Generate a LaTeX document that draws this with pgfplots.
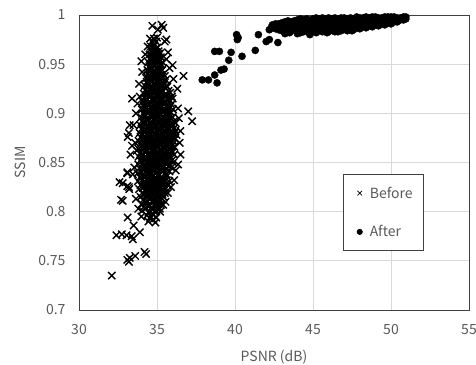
\documentclass[border=0pt]{standalone}
\usepackage{fontspec}
\setmainfont{Noto Sans CJK JP}
\usepackage{pgfplots}
\pgfplotsset{compat=1.18}
\usetikzlibrary{calc}
\definecolor{gridc}{HTML}{D9D9D9}
\definecolor{txtc}{HTML}{595959}
\definecolor{framec}{HTML}{404040}
\begin{document}
\begin{tikzpicture}
\begin{axis}[
  scale only axis, width=390bp, height=295bp,
  xmin=30, xmax=55, ymin=0.7, ymax=1,
  xtick={30,35,...,55}, ytick={0.7,0.75,...,1.01},
  yticklabels={0.7,0.75,0.8,0.85,0.9,0.95,1},
  /pgf/number format/assume math mode=true,
  font=\fontsize{14bp}{16bp}\selectfont,
  tick label style={text=txtc},
  xticklabel style={yshift=-11bp},
  yticklabel style={xshift=-10bp},
  label style={text=txtc},
  major tick length=0pt,
  grid=major, major grid style={gridc, line width=0.8bp},
  axis line style={framec, line width=0.9bp},
  xlabel={PSNR (dB)}, ylabel={SSIM},
  xlabel style={yshift=-8bp},
  ylabel style={yshift=6bp},
  clip=false,
  legend style={at={(axis cs:46.9,0.838)}, anchor=north west, draw=framec, line width=0.8bp,
    inner xsep=9bp, inner ysep=10bp, row sep=22bp, text=txtc,
    font=\fontsize{14bp}{16bp}\selectfont},
  legend cell align=left,
]
\addplot[only marks, mark=x, mark size=5.2pt, mark options={line width=1.4bp, black},
  legend image code/.code={\path (0,0) (15bp,0);\draw[black, line width=0.8bp] (5bp,-2.3bp) -- (9.6bp,2.3bp) (5bp,2.3bp) -- (9.6bp,-2.3bp);}]
coordinates {
(34.35,0.796)(34.55,0.793)(34.78,0.797)(34.95,0.794)
(34.45,0.799)(34.68,0.798)(34.88,0.800)
(34.05,0.801)(34.28,0.803)(34.50,0.800)(34.72,0.802)(34.95,0.801)(35.18,0.803)
(34.16,0.805)(34.40,0.806)(34.62,0.804)(34.85,0.806)(35.06,0.805)
(34.02,0.808)(34.26,0.809)(34.48,0.807)(34.70,0.810)(34.93,0.808)(35.25,0.807)
(34.12,0.812)(34.37,0.811)(34.59,0.813)(34.81,0.812)(35.04,0.811)(35.32,0.813)
(33.95,0.815)(34.18,0.817)(34.44,0.816)(34.66,0.815)(34.88,0.817)(35.12,0.816)(35.42,0.815)
(34.05,0.819)(34.30,0.820)(34.55,0.821)(34.77,0.819)(35.00,0.820)(35.24,0.821)(35.50,0.819)
(33.85,0.823)(34.10,0.824)(34.36,0.822)(34.60,0.824)(34.84,0.823)(35.06,0.825)(35.30,0.822)(35.58,0.824)
(33.95,0.827)(34.22,0.828)(34.47,0.826)(34.71,0.828)(34.94,0.827)(35.18,0.826)(35.44,0.828)(35.68,0.827)
(33.78,0.831)(34.04,0.832)(34.30,0.830)(34.55,0.832)(34.79,0.831)(35.02,0.833)(35.26,0.830)(35.52,0.832)(35.78,0.831)
(33.90,0.835)(34.16,0.836)(34.42,0.834)(34.66,0.836)(34.90,0.835)(35.13,0.837)(35.38,0.834)(35.64,0.836)
(33.75,0.839)(34.00,0.840)(34.27,0.841)(34.52,0.839)(34.76,0.841)(35.00,0.840)(35.24,0.842)(35.50,0.839)(35.80,0.841)
(33.88,0.844)(34.14,0.843)(34.40,0.845)(34.64,0.844)(34.88,0.843)(35.12,0.845)(35.37,0.844)(35.63,0.843)(35.92,0.845)
(33.80,0.848)(34.06,0.849)(34.32,0.847)(34.57,0.849)(34.81,0.848)(35.05,0.850)(35.29,0.847)(35.55,0.849)(35.82,0.848)(36.05,0.850)
(33.92,0.852)(34.18,0.853)(34.44,0.851)(34.69,0.853)(34.93,0.852)(35.17,0.854)(35.42,0.851)(35.68,0.853)(35.95,0.852)
(33.82,0.856)(34.08,0.857)(34.34,0.855)(34.59,0.857)(34.83,0.856)(35.07,0.858)(35.31,0.855)(35.57,0.857)(35.84,0.856)(36.10,0.858)
(33.94,0.860)(34.20,0.861)(34.46,0.859)(34.71,0.861)(34.95,0.860)(35.19,0.862)(35.44,0.859)(35.70,0.861)(35.97,0.860)
(33.80,0.864)(34.06,0.865)(34.32,0.863)(34.57,0.865)(34.82,0.864)(35.06,0.866)(35.30,0.863)(35.56,0.865)(35.83,0.864)(36.12,0.866)
(33.92,0.868)(34.18,0.869)(34.44,0.867)(34.69,0.869)(34.94,0.868)(35.18,0.870)(35.43,0.867)(35.69,0.869)(35.98,0.868)
(33.82,0.872)(34.08,0.873)(34.34,0.871)(34.59,0.873)(34.84,0.872)(35.08,0.874)(35.33,0.871)(35.59,0.873)(35.86,0.872)(36.15,0.874)
(33.95,0.876)(34.21,0.877)(34.47,0.875)(34.72,0.877)(34.96,0.876)(35.21,0.878)(35.46,0.875)(35.72,0.877)(36.00,0.876)(36.25,0.878)
(33.88,0.880)(34.14,0.881)(34.40,0.879)(34.65,0.881)(34.89,0.880)(35.13,0.882)(35.38,0.879)(35.64,0.881)(35.91,0.880)(36.18,0.882)
(34.00,0.884)(34.27,0.885)(34.53,0.883)(34.78,0.885)(35.02,0.884)(35.26,0.886)(35.51,0.883)(35.77,0.885)(36.05,0.884)
(33.92,0.888)(34.18,0.889)(34.44,0.887)(34.69,0.889)(34.94,0.888)(35.18,0.890)(35.42,0.887)(35.68,0.889)(35.95,0.888)(36.20,0.890)
(34.04,0.892)(34.30,0.893)(34.56,0.891)(34.81,0.893)(35.05,0.892)(35.29,0.894)(35.54,0.891)(35.80,0.893)(36.08,0.892)
(33.98,0.896)(34.24,0.897)(34.50,0.895)(34.75,0.897)(34.99,0.896)(35.23,0.898)(35.47,0.895)(35.73,0.897)(36.00,0.896)
(34.10,0.900)(34.36,0.901)(34.62,0.899)(34.87,0.901)(35.11,0.900)(35.35,0.902)(35.60,0.899)(35.88,0.901)
(34.03,0.904)(34.29,0.905)(34.55,0.903)(34.80,0.905)(35.04,0.904)(35.28,0.906)(35.53,0.903)(35.80,0.905)(36.02,0.904)
(34.15,0.908)(34.41,0.909)(34.67,0.907)(34.92,0.909)(35.16,0.908)(35.40,0.910)(35.66,0.907)(35.92,0.909)
(34.08,0.912)(34.34,0.913)(34.60,0.911)(34.85,0.913)(35.09,0.912)(35.33,0.914)(35.58,0.911)(35.85,0.913)
(34.20,0.916)(34.46,0.917)(34.72,0.915)(34.97,0.917)(35.21,0.916)(35.46,0.918)(35.72,0.915)(35.95,0.917)
(34.15,0.920)(34.40,0.921)(34.65,0.919)(34.90,0.921)(35.14,0.920)(35.38,0.922)(35.63,0.919)(35.85,0.921)
(34.27,0.924)(34.52,0.925)(34.77,0.923)(35.01,0.925)(35.25,0.924)(35.50,0.926)(35.74,0.923)
(34.22,0.928)(34.47,0.929)(34.72,0.927)(34.96,0.929)(35.20,0.928)(35.44,0.930)(35.66,0.927)
(34.34,0.932)(34.59,0.933)(34.84,0.931)(35.08,0.933)(35.32,0.932)(35.56,0.934)
(34.30,0.936)(34.55,0.937)(34.79,0.935)(35.03,0.937)(35.27,0.936)(35.50,0.938)
(34.42,0.940)(34.67,0.941)(34.91,0.939)(35.15,0.941)(35.40,0.940)
(34.38,0.944)(34.62,0.945)(34.86,0.943)(35.10,0.945)(35.34,0.944)
(34.50,0.948)(34.74,0.949)(34.98,0.947)(35.22,0.949)
(34.45,0.952)(34.69,0.953)(34.93,0.951)(35.17,0.953)(35.35,0.952)
(34.57,0.956)(34.81,0.957)(35.05,0.955)(35.25,0.957)
(34.52,0.960)(34.76,0.961)(35.00,0.959)(35.20,0.961)
(34.64,0.964)(34.88,0.965)(35.10,0.963)
(34.60,0.968)(34.83,0.969)(35.05,0.967)
(34.72,0.972)(34.95,0.973)
(34.80,0.976)(35.00,0.977)
(34.25,0.822)(34.50,0.829)(34.75,0.825)(35.00,0.830)(35.20,0.834)(34.40,0.838)(34.65,0.833)(34.90,0.839)(35.15,0.832)(35.40,0.841)
(34.15,0.846)(34.45,0.842)(34.70,0.847)(34.95,0.845)(35.20,0.849)(35.45,0.846)(34.30,0.850)(34.55,0.855)(34.80,0.851)(35.05,0.856)(35.30,0.852)(35.55,0.855)(35.80,0.859)
(34.10,0.858)(34.38,0.862)(34.62,0.857)(34.88,0.862)(35.12,0.860)(35.36,0.865)(35.62,0.862)(35.90,0.866)
(34.22,0.866)(34.48,0.870)(34.75,0.866)(35.00,0.871)(35.25,0.868)(35.50,0.872)(35.76,0.870)(36.02,0.872)
(34.12,0.874)(34.38,0.878)(34.62,0.874)(34.87,0.879)(35.12,0.876)(35.36,0.880)(35.60,0.876)(35.85,0.879)(36.10,0.879)
(34.25,0.882)(34.50,0.886)(34.74,0.882)(35.00,0.887)(35.24,0.883)(35.48,0.888)(35.72,0.884)(35.98,0.887)
(34.15,0.890)(34.40,0.894)(34.65,0.890)(34.90,0.894)(35.15,0.891)(35.40,0.895)(35.65,0.892)(35.90,0.895)
(34.25,0.898)(34.50,0.902)(34.75,0.898)(35.00,0.903)(35.25,0.899)(35.50,0.903)(35.75,0.900)
(34.20,0.906)(34.45,0.910)(34.70,0.906)(34.95,0.911)(35.20,0.907)(35.45,0.912)(35.70,0.909)
(34.30,0.914)(34.55,0.918)(34.80,0.914)(35.05,0.919)(35.30,0.915)(35.55,0.920)
(34.35,0.922)(34.60,0.926)(34.85,0.922)(35.10,0.927)(35.35,0.923)(35.60,0.928)
(34.40,0.930)(34.65,0.934)(34.90,0.930)(35.15,0.935)(35.40,0.931)
(34.50,0.938)(34.75,0.942)(35.00,0.938)(35.25,0.943)
(34.55,0.946)(34.80,0.950)(35.05,0.946)(35.28,0.950)
(34.65,0.954)(34.90,0.958)(35.12,0.954)
(34.70,0.962)(34.95,0.966)(35.15,0.960)
(34.40,0.818)(34.65,0.814)(34.90,0.818)(35.15,0.813)(34.30,0.810)(34.55,0.806)(34.80,0.810)(35.05,0.808)
(34.35,0.815)(34.60,0.819)(34.85,0.814)(35.10,0.820)(35.35,0.818)
(34.20,0.826)(34.45,0.823)(34.70,0.830)(34.95,0.824)(35.20,0.829)(35.45,0.824)
(34.10,0.836)(34.35,0.833)(34.60,0.840)(34.85,0.834)(35.10,0.838)(35.35,0.833)(35.60,0.838)
(34.25,0.844)(34.50,0.848)(34.75,0.843)(35.00,0.847)(35.25,0.843)(35.50,0.850)(35.75,0.846)
(34.20,0.854)(34.45,0.858)(34.70,0.853)(34.95,0.857)(35.20,0.853)(35.45,0.860)(35.70,0.856)(35.95,0.862)
(34.15,0.864)(34.40,0.868)(34.65,0.863)(34.90,0.867)(35.15,0.863)(35.40,0.870)(35.65,0.866)(35.90,0.870)
(34.30,0.874)(34.55,0.878)(34.80,0.873)(35.05,0.877)(35.30,0.873)(35.55,0.880)(35.80,0.875)(36.05,0.880)
(34.20,0.884)(34.45,0.888)(34.70,0.883)(34.95,0.887)(35.20,0.883)(35.45,0.890)(35.70,0.886)(35.95,0.890)
(34.30,0.894)(34.55,0.898)(34.80,0.893)(35.05,0.897)(35.30,0.893)(35.55,0.900)(35.80,0.896)
(34.25,0.904)(34.50,0.908)(34.75,0.903)(35.00,0.907)(35.25,0.903)(35.50,0.910)(35.75,0.905)
(34.35,0.914)(34.60,0.918)(34.85,0.913)(35.10,0.917)(35.35,0.913)(35.60,0.918)
(34.40,0.926)(34.65,0.922)(34.90,0.927)(35.15,0.923)(35.40,0.928)
(34.50,0.934)(34.75,0.938)(35.00,0.933)(35.25,0.939)
(34.60,0.944)(34.85,0.948)(35.10,0.943)
(34.65,0.952)(34.90,0.954)(35.10,0.958)
(34.75,0.968)(34.95,0.962)
(32.10,0.735)(32.40,0.776)(32.75,0.777)(33.05,0.776)(33.38,0.775)(33.45,0.772)
(33.10,0.751)(33.25,0.753)(33.20,0.749)(33.60,0.755)(34.20,0.759)(34.30,0.757)
(33.12,0.794)(33.50,0.786)(33.90,0.779)(32.80,0.811)(32.60,0.830)(33.20,0.825)(33.22,0.823)
(33.10,0.840)(33.12,0.876)(33.20,0.880)(33.50,0.888)(33.25,0.888)(33.40,0.915)(33.90,0.917)(34.00,0.953)
(34.70,0.989)(35.40,0.987)(35.30,0.990)(35.05,0.985)(35.50,0.973)(35.60,0.975)
(36.70,0.938)(37.00,0.902)(37.25,0.892)(36.50,0.858)(36.20,0.842)(35.70,0.819)(35.40,0.807)
(34.60,0.795)(34.45,0.790)(34.75,0.792)(33.70,0.862)(33.60,0.870)(33.55,0.845)(33.45,0.838)
(33.65,0.900)(33.75,0.910)(33.85,0.930)(34.05,0.942)(34.25,0.960)(34.40,0.968)(34.55,0.976)
(35.60,0.955)(35.80,0.946)(36.05,0.935)(36.30,0.925)(36.35,0.905)(36.40,0.895)(36.45,0.870)
(36.50,0.882)(36.35,0.848)(36.10,0.832)(35.90,0.825)(35.55,0.810)(35.20,0.800)(34.90,0.789)
(33.65,0.813)(33.80,0.803)(34.00,0.795)(33.30,0.858)(33.40,0.867)(36.00,0.915)(36.00,0.949)(35.70,0.962)
(33.10,0.839)(32.80,0.829)(33.10,0.826)(32.70,0.812)
};
\addlegendentry{Before}
\addplot[only marks, mark=*, mark size=3.6pt, mark options={black, draw=none},
  legend image code/.code={\path (0,0) (15bp,0);\fill[black] (7.3bp,0) circle (2.6bp);}]
coordinates {
(37.90,0.934)(38.30,0.934)(38.85,0.931)(38.70,0.939)(39.10,0.944)(39.30,0.945)
(38.70,0.963)(39.00,0.963)(39.60,0.954)(39.75,0.962)(40.10,0.980)(40.15,0.975)(40.20,0.977)
(40.45,0.958)(41.30,0.964)(41.50,0.980)(42.00,0.973)(42.20,0.975)(42.75,0.972)
(42.20,0.985)(42.35,0.988)(43.20,0.981)(44.80,0.980)(45.90,0.982)(43.50,0.982)(44.00,0.981)(46.60,0.983)(47.50,0.984)
(42.40,0.987)(42.40,0.990)
(42.60,0.986)(42.60,0.989)(42.60,0.991)
(42.80,0.985)(42.80,0.988)(42.80,0.991)
(43.00,0.984)(43.00,0.986)(43.00,0.989)(43.00,0.992)
(43.20,0.985)(43.20,0.988)(43.20,0.991)(43.20,0.993)
(43.40,0.983)(43.40,0.986)(43.40,0.989)(43.40,0.992)(43.40,0.994)
(43.60,0.984)(43.60,0.987)(43.60,0.990)(43.60,0.993)
(43.80,0.985)(43.80,0.988)(43.80,0.991)(43.80,0.994)
(44.00,0.984)(44.00,0.987)(44.00,0.990)(44.00,0.993)(44.00,0.995)
(44.20,0.982)(44.20,0.985)(44.20,0.988)(44.20,0.991)(44.20,0.994)(44.20,0.996)
(44.40,0.983)(44.40,0.986)(44.40,0.989)(44.40,0.992)(44.40,0.995)
(44.60,0.984)(44.60,0.987)(44.60,0.990)(44.60,0.993)(44.60,0.996)
(44.80,0.982)(44.80,0.985)(44.80,0.988)(44.80,0.991)(44.80,0.994)
(45.00,0.984)(45.00,0.987)(45.00,0.990)(45.00,0.993)(45.00,0.996)
(45.20,0.982)(45.20,0.985)(45.20,0.988)(45.20,0.991)(45.20,0.994)(45.20,0.997)
(45.40,0.984)(45.40,0.987)(45.40,0.990)(45.40,0.993)(45.40,0.996)
(45.60,0.983)(45.60,0.985)(45.60,0.988)(45.60,0.991)(45.60,0.994)(45.60,0.997)
(45.80,0.984)(45.80,0.987)(45.80,0.990)(45.80,0.993)(45.80,0.996)
(46.00,0.983)(46.00,0.985)(46.00,0.988)(46.00,0.991)(46.00,0.994)(46.00,0.997)
(46.20,0.985)(46.20,0.988)(46.20,0.991)(46.20,0.994)(46.20,0.996)
(46.40,0.983)(46.40,0.986)(46.40,0.989)(46.40,0.992)(46.40,0.995)(46.40,0.997)
(46.60,0.985)(46.60,0.988)(46.60,0.991)(46.60,0.994)(46.60,0.996)
(46.80,0.984)(46.80,0.986)(46.80,0.989)(46.80,0.992)(46.80,0.995)(46.80,0.997)
(47.00,0.986)(47.00,0.989)(47.00,0.992)(47.00,0.995)(47.00,0.997)
(47.20,0.984)(47.20,0.987)(47.20,0.990)(47.20,0.993)(47.20,0.996)
(47.40,0.986)(47.40,0.989)(47.40,0.992)(47.40,0.995)(47.40,0.997)
(47.60,0.985)(47.60,0.987)(47.60,0.990)(47.60,0.993)(47.60,0.996)
(47.80,0.987)(47.80,0.990)(47.80,0.993)(47.80,0.996)(47.80,0.998)
(48.00,0.986)(48.00,0.988)(48.00,0.991)(48.00,0.994)(48.00,0.997)
(48.20,0.988)(48.20,0.991)(48.20,0.994)(48.20,0.997)
(48.40,0.987)(48.40,0.989)(48.40,0.992)(48.40,0.995)(48.40,0.998)
(48.60,0.989)(48.60,0.992)(48.60,0.995)(48.60,0.997)
(48.80,0.988)(48.80,0.990)(48.80,0.993)(48.80,0.996)(48.80,0.998)
(49.00,0.990)(49.00,0.993)(49.00,0.996)(49.00,0.998)
(49.20,0.989)(49.20,0.991)(49.20,0.994)(49.20,0.997)
(49.40,0.991)(49.40,0.994)(49.40,0.997)
(49.60,0.990)(49.60,0.992)(49.60,0.995)(49.60,0.998)
(49.80,0.992)(49.80,0.995)(49.80,0.998)
(50.00,0.991)(50.00,0.993)(50.00,0.996)(50.00,0.998)
(50.20,0.993)(50.20,0.996)(50.20,0.998)
(50.40,0.993)(50.40,0.995)(50.40,0.997)
(50.60,0.995)(50.60,0.997)
(50.80,0.995)(50.80,0.998)
(50.95,0.996)(50.95,0.998)
};
\addlegendentry{After}
\end{axis}
\pgfresetboundingbox
\path[use as bounding box] ($(current axis.south west)+(-79bp,-55bp)$) rectangle ($(current axis.north east)+(7bp,15bp)$);
\end{tikzpicture}
\end{document}
